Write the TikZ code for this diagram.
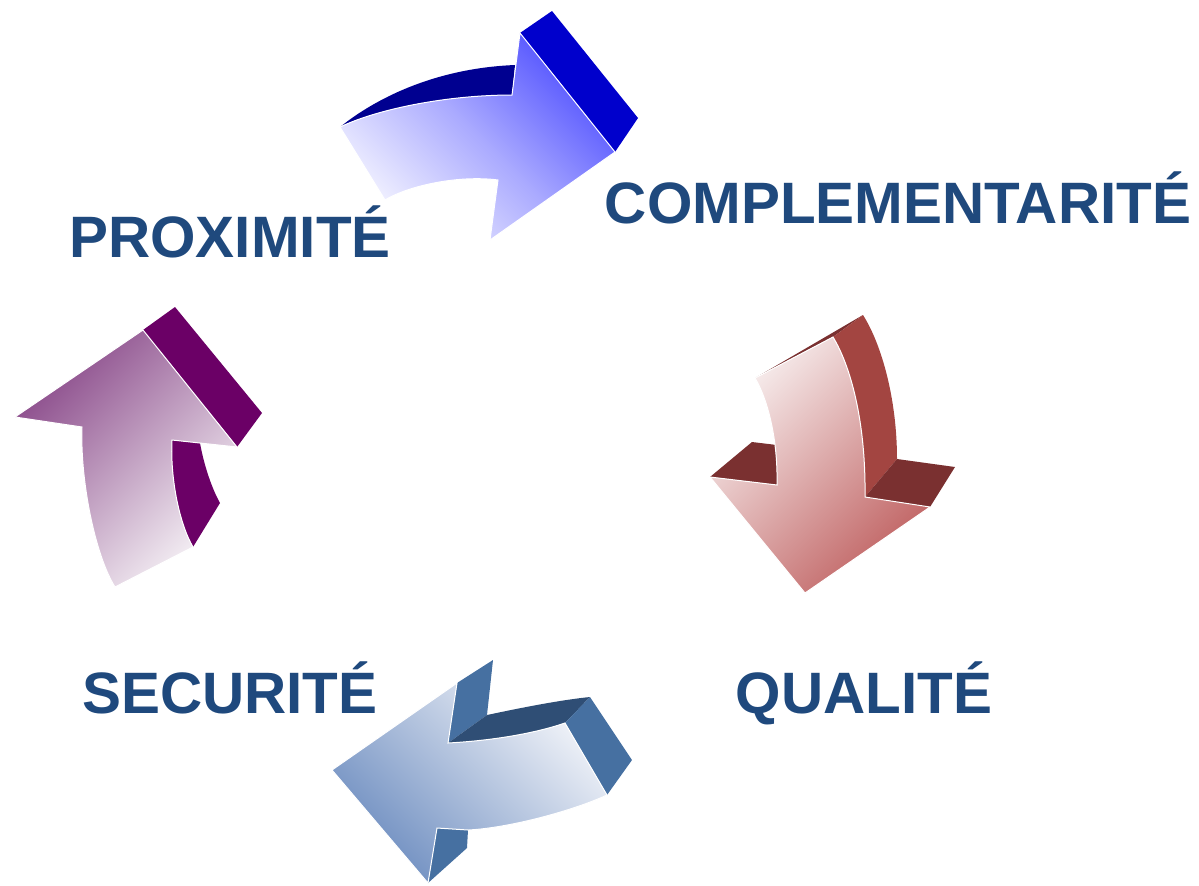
\documentclass[tikz,border=0pt]{standalone}
\usepackage{fontspec}
\setmainfont{Liberation Sans}
\definecolor{lblblue}{HTML}{1F497D}
\definecolor{topdark}{HTML}{5050FF}
\definecolor{toplight}{HTML}{F4F4FF}
\definecolor{topside}{HTML}{000090}
\definecolor{tophead}{HTML}{0000CC}
\definecolor{redlight}{HTML}{F8F0F0}
\definecolor{reddark}{HTML}{C06262}
\definecolor{redside}{HTML}{A34541}
\definecolor{redbarb}{HTML}{7A3030}
\definecolor{botlight}{HTML}{F2F4F9}
\definecolor{botdark}{HTML}{6D8DC0}
\definecolor{botside}{HTML}{4670A1}
\definecolor{botshade}{HTML}{2F4E75}
\definecolor{purpdark}{HTML}{8A4A8A}
\definecolor{purplight}{HTML}{F6F2F6}
\definecolor{purpside}{HTML}{6B0066}
\begin{document}
\begin{tikzpicture}[x=0.5pt,y=-0.5pt,
  lbl/.style={anchor=base,inner sep=0,text=lblblue,font=\bfseries\fontsize{29.2}{31}\selectfont},
  face/.style={draw=white,line width=0.5pt}]
\useasboundingbox (0,0) rectangle (1199,885);

%proximite -> complementarite
\fill [topside] (340,127) .. controls (380,95) and (440,68) .. (515,65) -- (512,95) .. controls (450,95) and (380,108) .. (340,127);
\fill [tophead] (520,33) -- (552,11) -- (638,118) -- (615,152) -- cycle;
\draw [face, top color=topdark, bottom color=toplight, middle color=topdark!45!toplight, shading angle=-45] (340,127) -- (385,200) .. controls (410,185) and (460,175) .. (498,180) -- (490,240) -- (615,152) -- (520,33) -- (512,95) .. controls (450,95) and (380,108) .. (340,127) -- cycle;

%complementarite -> qualite
\fill [redbarb] (755,378) -- (863,315) -- (833,337) -- cycle;
\fill [redside] (833,337) -- (863,315) .. controls (882,345) and (897,400) .. (897,459) -- (865,497) .. controls (866,420) and (850,365) .. (833,337) -- cycle;
\fill [redbarb] (865,497) -- (897,459) -- (955,467) -- (930,507) -- cycle;
\fill [redbarb] (710,477) -- (752,442) -- (777,445) -- (777,485) -- cycle;
\draw [face, top color=redlight, bottom color=reddark, shading angle=45] (755,378) -- (833,337) .. controls (850,365) and (866,420) .. (865,497) -- (930,507) -- (805,593) -- (710,477) -- (777,485) .. controls (778,440) and (768,400) .. (755,378) -- cycle;

%qualite -> securite
\fill [botside] (457,683) -- (493,660) -- (487,715) -- (448,743) -- cycle;
\fill [botshade] (448,743) -- (487,715) .. controls (520,708) and (560,700) .. (590,697) -- (565,723) .. controls (530,735) and (485,741) .. (448,743) -- cycle;
\fill [botside] (565,723) -- (590,697) -- (632,760) -- (607,795) -- cycle;
\fill [botside] (437,828) -- (468,830) -- (467,848) -- (428,883) -- cycle;
\draw [face, top color=botlight, bottom color=botdark, shading angle=-45] (332,770) -- (457,683) -- (448,743) .. controls (485,741) and (530,735) .. (565,723) -- (607,795) .. controls (575,810) and (510,828) .. (468,830) -- (437,828) -- (428,883) -- cycle;

%securite -> proximite
\fill [purpside] (143,330) -- (175,307) -- (262,413) -- (237,447) -- cycle;
\fill [purpside] (172,440) -- (200,443) .. controls (203,460) and (210,485) .. (220,503) -- (193,547) .. controls (180,525) and (170,480) .. (172,440) -- cycle;
\draw [face, top color=purpdark, bottom color=purplight, shading angle=45] (15,417) -- (143,330) -- (237,447) -- (172,440) .. controls (170,480) and (180,525) .. (193,547) -- (115,587) .. controls (95,555) and (80,480) .. (82,427) -- cycle;

\foreach \n/\x/\y/\t in {prox/230/257/PROXIMITÉ, compl/898/223/COMPLEMENTARITÉ, qual/864/713/QUALITÉ, secu/230/713/SECURITÉ}
  \node [lbl] (\n) at (\x,\y) {\t};
\end{tikzpicture}
\end{document}
